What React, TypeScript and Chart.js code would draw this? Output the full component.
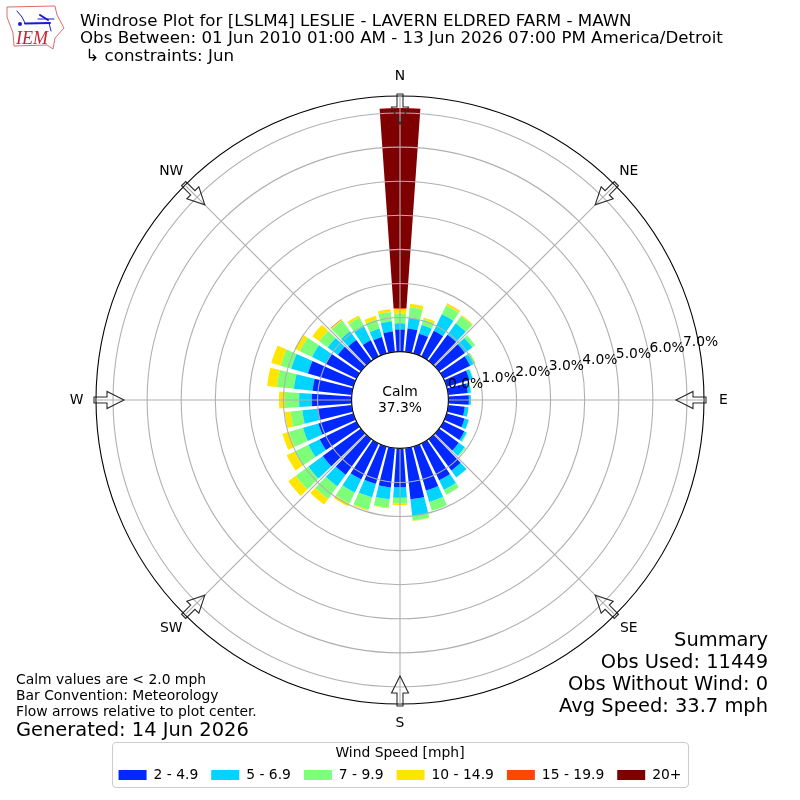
import React, { useEffect, useRef } from "react";
import { Chart, registerables, PolarAreaController } from "chart.js";

const FONT = '"DejaVu Sans"';

const compass = ["N", "NE", "E", "SE", "S", "SW", "W", "NW"];
const directions = [
  "0", "10", "20", "30", "40", "50", "60", "70", "80", "90", "100", "110",
  "120", "130", "140", "150", "160", "170", "180", "190", "200", "210", "220", "230",
  "240", "250", "260", "270", "280", "290", "300", "310", "320", "330", "340", "350",
];

const speed2to5 = [
  0.65, 0.69, 0.60, 0.84, 0.95, 0.93, 0.87, 0.70, 0.58, 0.60, 0.49, 0.55,
  0.68, 0.71, 1.14, 1.20, 1.34, 1.51, 1.14, 1.16, 1.14, 1.17, 1.29, 1.38,
  1.20, 1.07, 1.01, 1.17, 1.16, 1.39, 1.01, 0.83, 0.76, 0.53, 0.50, 0.60,
];
const speed5to7 = [
  0.18, 0.32, 0.27, 0.54, 0.41, 0.27, 0.11, 0.10, 0.09, 0.06, 0.11, 0.13,
  0.07, 0.22, 0.25, 0.31, 0.35, 0.49, 0.31, 0.35, 0.41, 0.43, 0.42, 0.52,
  0.37, 0.47, 0.45, 0.37, 0.55, 0.51, 0.44, 0.37, 0.31, 0.45, 0.26, 0.30,
];
const speed7to10 = [
  0.29, 0.30, 0.17, 0.28, 0.27, 0.11, 0.07, 0.02, 0.01, 0, 0, 0.01,
  0.03, 0.04, 0, 0.16, 0.27, 0.13, 0.16, 0.25, 0.38, 0.36, 0.45, 0.46,
  0.45, 0.42, 0.35, 0.42, 0.50, 0.32, 0.40, 0.31, 0.39, 0.29, 0.28, 0.28,
];
const speed10to15 = [
  0.13, 0.11, 0.06, 0.06, 0.03, 0, 0, 0, 0, 0, 0, 0,
  0, 0, 0, 0, 0, 0.02, 0.06, 0.02, 0.03, 0.09, 0.21, 0.27,
  0.26, 0.21, 0.17, 0.17, 0.29, 0.29, 0.15, 0.25, 0.03, 0.07, 0.11, 0.08,
];
const speed15to20 = [
  0.03, 0, 0, 0.01, 0, 0, 0, 0, 0, 0, 0, 0,
  0, 0, 0, 0, 0, 0, 0, 0, 0, 0, 0, 0,
  0, 0, 0, 0, 0, 0, 0, 0, 0.02, 0, 0, 0,
];
const speed20plus = [
  5.87, 0, 0, 0, 0, 0, 0, 0, 0, 0, 0, 0,
  0, 0, 0, 0, 0, 0, 0, 0, 0, 0, 0, 0,
  0, 0, 0, 0, 0, 0, 0, 0, 0, 0, 0, 0,
];

const binLabels = ["2 - 4.9", "5 - 6.9", "7 - 9.9", "10 - 14.9", "15 - 19.9", "20+"];
const binColors = ["#0028ff", "#00d4ff", "#7dff7a", "#ffe500", "#ff4700", "#7f0000"];
const binValues = [speed2to5, speed5to7, speed7to10, speed10to15, speed15to20, speed20plus];

const radialTicks = [0, 1, 2, 3, 4, 5, 6, 7, 7.5];
const tickLabels = ["0.0%", "1.0%", "2.0%", "3.0%", "4.0%", "5.0%", "6.0%", "7.0%"];

const titleLines = [
  "Windrose Plot for [LSLM4] LESLIE - LAVERN ELDRED FARM - MAWN",
  "Obs Between: 01 Jun 2010 01:00 AM - 13 Jun 2026 07:00 PM America/Detroit",
  " \u21B3 constraints: Jun",
];
const noteLines = [
  "Calm values are < 2.0 mph",
  "Bar Convention: Meteorology",
  "Flow arrows relative to plot center.",
];
const generatedLine = "Generated: 14 Jun 2026";
const summaryLines = ["Summary", "Obs Used: 11449", "Obs Without Wind: 0", "Avg Speed: 33.7 mph"];
const calmLines = ["Calm", "37.3%"];

const BAR_GAP_DEG = 1;
const HALF_SECTOR_DEG = 5;
const toRad = (d: number) => (d * Math.PI) / 180;

class RoseController extends (PolarAreaController as any) {
  static id = "rose";
  updateElement(element: any, index: number, properties: any, mode: any) {
    if (properties) {
      const scale = this._cachedMeta.rScale;
      const datasets = this.chart.data.datasets;
      let base = 0;
      for (let d = 0; d < this.index; d++) base += datasets[d].data[index];
      const top = base + datasets[this.index].data[index];
      properties.innerRadius = scale.getDistanceFromCenterForValue(base);
      properties.outerRadius = scale.getDistanceFromCenterForValue(top);
      const s = properties.startAngle;
      const e = properties.endAngle;
      properties.startAngle = s + toRad(BAR_GAP_DEG - HALF_SECTOR_DEG);
      properties.endAngle = e - toRad(BAR_GAP_DEG + HALF_SECTOR_DEG);
    }
    super.updateElement(element, index, properties, mode);
  }
}

Chart.register(...registerables, RoseController as any);

function text(
  ctx: CanvasRenderingContext2D,
  s: string,
  x: number,
  y: number,
  size: number,
  align: CanvasTextAlign = "left",
) {
  ctx.font = `${size}px ${FONT}`;
  ctx.textAlign = align;
  ctx.textBaseline = "middle";
  ctx.fillStyle = "#000";
  ctx.fillText(s, x, y);
}

function drawArrow(ctx: CanvasRenderingContext2D, cx: number, cy: number, angle: number) {
  ctx.save();
  ctx.translate(cx, cy);
  ctx.rotate(angle);
  ctx.beginPath();
  ctx.moveTo(-3, -306);
  ctx.lineTo(3, -306);
  ctx.lineTo(3, -293);
  ctx.lineTo(8.5, -293);
  ctx.lineTo(0, -276);
  ctx.lineTo(-8.5, -293);
  ctx.lineTo(-3, -293);
  ctx.closePath();
  ctx.strokeStyle = "#2b2b2b";
  ctx.lineWidth = 1.1;
  ctx.stroke();
  ctx.restore();
}

function drawLogo(ctx: CanvasRenderingContext2D) {
  ctx.save();
  const outline = [
    [7, 7], [55, 6], [57, 15], [64, 28], [55, 38], [53, 49], [47, 45], [14, 46], [13, 33], [7, 17],
  ];
  ctx.beginPath();
  outline.forEach(([x, y], i) => (i ? ctx.lineTo(x, y) : ctx.moveTo(x, y)));
  ctx.closePath();
  ctx.strokeStyle = "#e06a6a";
  ctx.lineWidth = 1;
  ctx.stroke();
  ctx.strokeStyle = "#1a1ad0";
  ctx.lineCap = "round";
  ctx.lineWidth = 2;
  ctx.beginPath();
  ctx.moveTo(25, 23.5);
  ctx.lineTo(50, 23);
  ctx.moveTo(40, 15);
  ctx.lineTo(48, 20);
  ctx.stroke();
  ctx.lineWidth = 1;
  ctx.beginPath();
  ctx.moveTo(17, 11);
  ctx.lineTo(22, 17);
  ctx.lineTo(25, 23);
  ctx.moveTo(38, 19);
  ctx.lineTo(54, 19);
  ctx.moveTo(49, 23);
  ctx.lineTo(51, 31);
  ctx.stroke();
  ctx.fillStyle = "#1a1ad0";
  ctx.beginPath();
  ctx.arc(20, 24, 2, 0, Math.PI * 2);
  ctx.fill();
  ctx.font = 'italic 18px "Liberation Serif"';
  ctx.fillStyle = "#c8232c";
  ctx.textAlign = "left";
  ctx.textBaseline = "alphabetic";
  ctx.fillText("IEM", 16, 44);
  ctx.restore();
}

const overlayPlugin = {
  id: "overlay",
  afterDraw(chart: any) {
    const ctx: CanvasRenderingContext2D = chart.ctx;
    const r = chart.scales.r;
    const cx = r.xCenter;
    const cy = r.yCenter;

    ctx.save();
    ctx.beginPath();
    ctx.arc(cx, cy, r.getDistanceFromCenterForValue(0), 0, Math.PI * 2);
    ctx.fillStyle = "#fff";
    ctx.fill();
    ctx.strokeStyle = "#000";
    ctx.lineWidth = 1.1;
    ctx.stroke();

    calmLines.forEach((s, i) => text(ctx, s, cx, cy - 8 + i * 16, 13.89, "center"));

    tickLabels.forEach((s, i) => {
      const p = r.getPointPositionForValue(0, radialTicks[i]);
      const d = Math.hypot(p.x - cx, p.y - cy);
      const a = toRad(80);
      text(ctx, s, cx + d * Math.sin(a) + 18, cy - d * Math.cos(a) - 7.6, 13.89, "center");
    });

    compass.forEach((s, i) => {
      const p = r.getPointPosition(i, 323.5);
      text(ctx, s, p.x, p.y, 13.89, "center");
      drawArrow(ctx, cx, cy, r.getIndexAngle(i));
    });

    titleLines.forEach((s, i) => text(ctx, s, 80, 21.5 + i * 17.4, 16.67));
    noteLines.forEach((s, i) => text(ctx, s, 16, 680.5 + i * 16, 13.89));
    text(ctx, generatedLine, 16, 730.5, 19.44);
    summaryLines.forEach((s, i) => text(ctx, s, 768, 641 + i * 22, 19.44, "right"));

    ctx.beginPath();
    ctx.roundRect(112.5, 742.5, 576, 45, 4);
    ctx.strokeStyle = "#cccccc";
    ctx.lineWidth = 1.1;
    ctx.stroke();

    drawLogo(ctx);
    ctx.restore();
  },
};

export default function App() {
  const ref = useRef<HTMLCanvasElement>(null);
  useEffect(() => {
    const chart = new Chart(ref.current as HTMLCanvasElement, {
      type: "rose" as any,
      data: {
        labels: directions,
        datasets: binLabels.map((label, i) => ({
          label,
          data: binValues[i],
          backgroundColor: binColors[i],
          borderWidth: 0,
        })),
      },
      options: {
        animation: false,
        responsive: false,
        events: [],
        layout: { padding: { top: 96, left: 96, right: 96, bottom: 8 } },
        scales: {
          r: {
            type: "radialLinear",
            labels: compass,
            min: -1.42,
            max: 7.5,
            startAngle: 0,
            beginAtZero: false,
            afterBuildTicks: (s: any) => {
              s.ticks = radialTicks.map((value) => ({ value }));
            },
            ticks: { display: false },
            pointLabels: { display: false },
            angleLines: { display: true, color: "#b0b0b0", lineWidth: 1.1 },
            grid: {
              z: 1,
              circular: true,
              lineWidth: 1.1,
              color: (c: any) => (c.tick && c.tick.value === 7.5 ? "#000000" : "#b0b0b0"),
            },
          },
        } as any,
        plugins: {
          tooltip: { enabled: false },
          legend: {
            display: true,
            position: "bottom",
            title: {
              display: true,
              text: "Wind Speed [mph]",
              color: "#000",
              font: { family: FONT, size: 13.89 },
              padding: { top: 42, bottom: -8 },
            },
            labels: {
              boxWidth: 28,
              boxHeight: 10,
              padding: 13,
              color: "#000",
              font: { family: FONT, size: 13.89 },
              generateLabels: (c: any) =>
                c.data.datasets.map((d: any, i: number) => ({
                  text: d.label,
                  fillStyle: d.backgroundColor,
                  strokeStyle: d.backgroundColor,
                  lineWidth: 0,
                  hidden: false,
                  datasetIndex: i,
                })),
            },
          },
        },
      } as any,
      plugins: [overlayPlugin as any],
    });
    return () => chart.destroy();
  }, []);
  return (
    <div style={{ position: "absolute", left: 0, top: 0, width: 800, height: 800, background: "#fff" }}>
      <canvas ref={ref} width={800} height={800} style={{ display: "block" }} />
    </div>
  );
}
